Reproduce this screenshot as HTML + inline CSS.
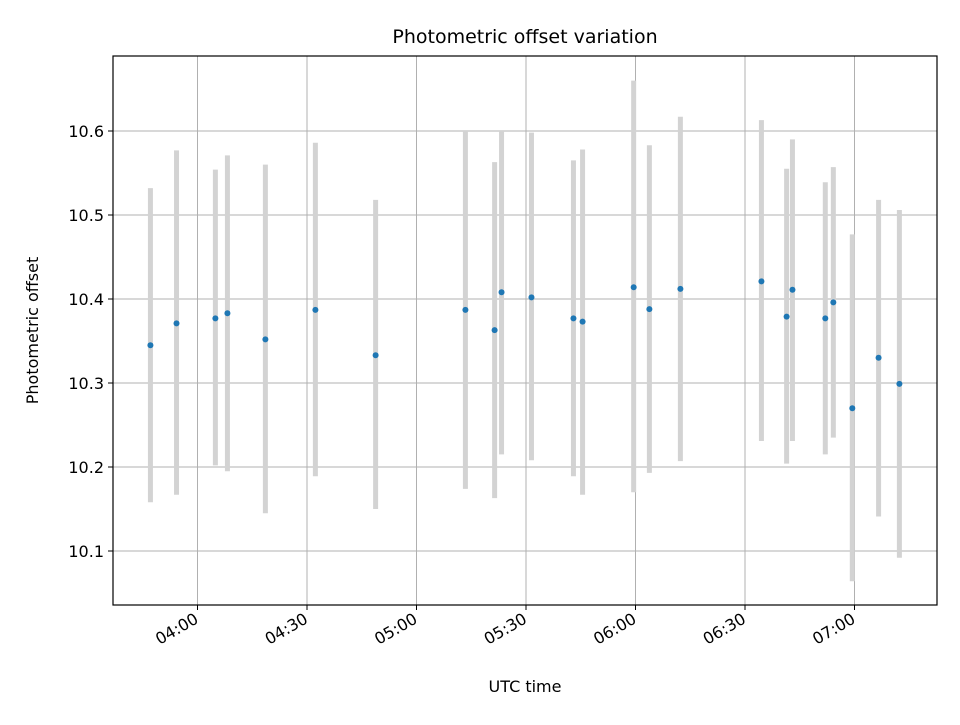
<!DOCTYPE html>
<html><head><meta charset="utf-8"><style>body{margin:0;background:#fff}svg{font-family:"DejaVu Sans","Liberation Sans",sans-serif}</style></head>
<body>
<svg id="c" width="960" height="720" xmlns="http://www.w3.org/2000/svg"></svg>
<script>
const minutes=[-12.9,-5.75,4.9,8.2,18.6,32.3,48.8,73.4,81.4,83.3,91.5,103,105.5,119.5,123.8,132.3,154.5,161.4,163,172,174.2,179.4,186.6,192.3];
const values=[10.345,10.371,10.377,10.383,10.352,10.387,10.333,10.387,10.363,10.408,10.402,10.377,10.373,10.414,10.388,10.412,10.421,10.379,10.411,10.377,10.396,10.270,10.330,10.299];
const errHi=[10.532,10.577,10.554,10.571,10.560,10.586,10.518,10.600,10.563,10.600,10.598,10.565,10.578,10.660,10.583,10.617,10.613,10.555,10.590,10.539,10.557,10.477,10.518,10.506];
const errLo=[10.158,10.167,10.202,10.195,10.145,10.189,10.150,10.174,10.163,10.215,10.208,10.189,10.167,10.170,10.193,10.207,10.231,10.204,10.231,10.215,10.235,10.064,10.141,10.092];
const xTickMin=[0,30,60,90,120,150,180];
const xTickLabels=["04:00","04:30","05:00","05:30","06:00","06:30","07:00"];
const yTicks=[10.1,10.2,10.3,10.4,10.5,10.6];
const yTickLabels=["10.1","10.2","10.3","10.4","10.5","10.6"];

const L=113,R=937,T=56,B=605;
const X=m=>197.5+m*(109.5/30);
const Y=v=>131-(v-10.6)*840;
const svg=document.getElementById('c');
const NS='http://www.w3.org/2000/svg';
function mk(t,a,p){const e=document.createElementNS(NS,t);for(const k in a)e.setAttribute(k,a[k]);(p||svg).appendChild(e);return e;}

const grid=mk('g',{});


xTickMin.forEach((m,i)=>{
  const x=X(m);
  const g=mk('line',{x1:x,x2:x,y1:T,y2:B,stroke:'#b0b0b0','stroke-width':1},grid);
  
  
  mk('line',{x1:x,x2:x,y1:B,y2:B+5,stroke:'#000','stroke-width':1});
  const t=mk('text',{x:x+2,y:B+17,'font-size':16,'text-anchor':'end',transform:`rotate(-30 ${x+2} ${B+17})`});
  t.textContent=xTickLabels[i];
  
  
});
yTicks.forEach((v,i)=>{
  const y=Y(v);
  const g=mk('line',{x1:L,x2:R,y1:y,y2:y,stroke:'#b0b0b0','stroke-width':1},grid);
  
  
  mk('line',{x1:L-5,x2:L,y1:y,y2:y,stroke:'#000','stroke-width':1});
  const t=mk('text',{x:L-9,y:y+6,'font-size':16,'text-anchor':'end'});
  t.textContent=yTickLabels[i];
  
  
});
const series=mk('g',{});


minutes.forEach((m,i)=>{
  const x=X(m);
  const e=mk('line',{x1:x,x2:x,y1:Y(errHi[i]),y2:Y(errLo[i]),stroke:'#d3d3d3','stroke-width':5},series);
  
  
});
minutes.forEach((m,i)=>{
  const p=mk('circle',{cx:X(m),cy:Y(values[i]),r:3,fill:'#1f77b4'},series);
  
  
});
const frame=mk('rect',{x:L,y:T,width:R-L,height:B-T,fill:'none',stroke:'#000','stroke-width':1.2});


const title=mk('text',{x:(L+R)/2,y:43,'font-size':19,'text-anchor':'middle'});
title.textContent='Photometric offset variation';


const xl=mk('text',{x:(L+R)/2,y:692,'font-size':16,'text-anchor':'middle'});
xl.textContent='UTC time';


const yl=mk('text',{x:38,y:(T+B)/2,'font-size':16,'text-anchor':'middle',transform:`rotate(-90 38 ${(T+B)/2})`});
yl.textContent='Photometric offset';


</script>
</body></html>
